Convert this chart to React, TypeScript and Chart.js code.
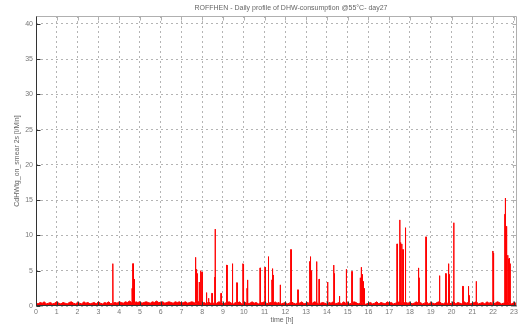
import React, { useEffect, useRef } from "react";
import { Chart, registerables } from "chart.js";

Chart.register(...registerables);

const titleText = "ROFFHEN - Daily profile of DHW-consumption @55°C- day27";
const xLabelText = "time [h]";
const yLabelText = "CdHWtg_on_smear 2s [l/Min]";

const xTickValues = [0, 1, 2, 3, 4, 5, 6, 7, 8, 9, 10, 11, 12, 13, 14, 15, 16, 17, 18, 19, 20, 21, 22, 23];
const yTickValues = [0, 5, 10, 15, 20, 25, 30, 35, 40];
const xMax = 23.15;
const yMax = 41.1;

// baseline flow, one reading every 0.1 h from 0.0 h
const baseStep = 0.1;
const baseValues = [
  0.4, 0.3, 0.5, 0.4, 0.6, 0.3, 0.4, 0.5, 0.3, 0.4, 0.6, 0.4, 0.3, 0.5, 0.4, 0.3, 0.5, 0.6, 0.4, 0.3,
  0.5, 0.4, 0.3, 0.6, 0.4, 0.5, 0.3, 0.4, 0.5, 0.3, 0.6, 0.4, 0.3, 0.5, 0.4, 0.6, 0.3, 0.4, 0.5, 0.4,
  0.6, 0.5, 0.4, 0.6, 0.5, 0.7, 0.5, 0.4, 0.6, 0.5, 0.6, 0.4, 0.5, 0.6, 0.5, 0.4, 0.6, 0.5, 0.7, 0.5,
  0.5, 0.6, 0.4, 0.5, 0.6, 0.5, 0.4, 0.6, 0.5, 0.6, 0.4, 0.5, 0.6, 0.4, 0.5, 0.6, 0.5, 0.4, 0.6, 0.5,
  0.4, 0.5, 0.3, 0.6, 0.4, 0.5, 0.3, 0.4, 0.6, 0.5, 0.3, 0.4, 0.5, 0.6, 0.4, 0.3, 0.5, 0.4, 0.6, 0.3,
  0.4, 0.5, 0.3, 0.4, 0.6, 0.4, 0.5, 0.3, 0.4, 0.5, 0.6, 0.3, 0.4, 0.5, 0.3, 0.6, 0.4, 0.5, 0.3, 0.4,
  0.5, 0.3, 0.4, 0.6, 0.4, 0.3, 0.5, 0.4, 0.6, 0.3, 0.4, 0.5, 0.3, 0.4, 0.6, 0.5, 0.3, 0.4, 0.5, 0.4,
  0.3, 0.5, 0.4, 0.6, 0.3, 0.4, 0.5, 0.3, 0.6, 0.4, 0.5, 0.3, 0.4, 0.6, 0.5, 0.3, 0.4, 0.5, 0.2, 0.3,
  0.4, 0.5, 0.3, 0.4, 0.6, 0.3, 0.5, 0.4, 0.3, 0.6, 0.4, 0.5, 0.3, 0.4, 0.5, 0.6, 0.3, 0.4, 0.5, 0.4,
  0.5, 0.3, 0.4, 0.6, 0.4, 0.5, 0.3, 0.4, 0.6, 0.3, 0.5, 0.4, 0.3, 0.5, 0.6, 0.4, 0.3, 0.5, 0.4, 0.3,
  0.4, 0.6, 0.3, 0.5, 0.4, 0.3, 0.6, 0.4, 0.5, 0.3, 0.4, 0.5, 0.6, 0.3, 0.4, 0.5, 0.3, 0.6, 0.4, 0.5,
  0.3, 0.4, 0.6, 0.5, 0.3, 0.4, 0.5, 0.6, 0.4, 0.3, 0.5, 0.4,
];

// short draw-off events: start hour and flow value
const spikeHours = [
  3.69,
  4.62, 4.66, 4.68, 4.70, 4.72, 4.74,
  7.66, 7.68, 7.71, 7.74, 7.85, 7.92, 7.98,
  8.20, 8.30, 8.46, 8.60, 8.62, 8.90,
  9.16, 9.18, 9.44, 9.46, 9.66, 9.94, 9.96,
  10.15, 10.18, 10.78,
  11.02, 11.17, 11.19, 11.35, 11.38, 11.41, 11.75,
  12.26, 12.60,
  13.15, 13.18, 13.20, 13.23, 13.26, 13.50, 13.62,
  14.03, 14.32, 14.34, 14.60, 14.93,
  15.20, 15.60, 15.65, 15.70, 15.75, 15.80,
  17.37, 17.50, 17.54, 17.60, 17.65, 17.77,
  18.40, 18.42, 18.76,
  19.42, 19.72, 19.85, 19.88,
  20.10, 20.54, 20.80, 20.83,
  21.18, 21.97, 21.99,
  22.02, 22.56, 22.58, 22.61, 22.65, 22.70, 22.73, 22.77, 22.80,
];
const spikeValues = [
  6.0,
  2.5, 6.0, 4.3, 4.4, 3.8, 1.5,
  4.5, 6.9, 5.2, 4.6, 3.4, 5.0, 4.8,
  1.9, 1.1, 1.8, 4.1, 10.9, 1.8,
  3.7, 5.8, 4.2, 6.0, 3.3, 6.0, 5.9,
  2.5, 3.7, 5.4,
  5.5, 5.8, 7.0, 3.7, 5.3, 4.4, 3.0,
  8.0, 2.3,
  4.7, 6.3, 7.0, 5.0, 4.7, 6.3, 3.8,
  3.4, 5.8, 4.6, 1.4, 5.2,
  4.9, 4.0, 5.5, 4.5, 3.5, 2.5,
  8.8, 12.2, 9.0, 8.8, 8.0, 11.1,
  5.4, 4.0, 9.8,
  4.3, 4.6, 6.0, 4.5,
  11.8, 2.8, 2.8, 1.5,
  3.5, 7.8, 7.5,
  4.3, 13.0, 15.3, 11.3, 9.0, 7.2, 6.7, 6.8, 6.0,
];
const spikeDuration = 0.015;

function buildSeries() {
  const pts: { x: number; y: number }[] = [];
  const baseAt = (t: number) => baseValues[Math.min(baseValues.length - 1, Math.max(0, Math.round(t / baseStep)))];
  baseValues.forEach((v, i) => {
    const t = i * baseStep;
    const near = spikeHours.some((s) => t > s - 0.004 && t < s + spikeDuration + 0.004);
    if (!near) pts.push({ x: t, y: v });
  });
  spikeHours.forEach((s, i) => {
    const b = baseAt(s);
    pts.push({ x: s - 0.002, y: b });
    pts.push({ x: s, y: spikeValues[i] });
    pts.push({ x: s + spikeDuration, y: spikeValues[i] });
    pts.push({ x: s + spikeDuration + 0.002, y: b });
  });
  pts.sort((a, b) => a.x - b.x);
  return pts;
}

const FONT = "'Liberation Sans', 'DejaVu Sans', sans-serif";

const framePlugin = {
  id: "frame",
  afterDraw(chart: any) {
    const { ctx, chartArea } = chart;
    const xs = chart.scales.x;
    const ys = chart.scales.y;
    const L = Math.round(chartArea.left) + 0.5;
    const R = Math.round(chartArea.right) - 0.5;
    const T = Math.round(chartArea.top) + 0.5;
    const B = Math.round(chartArea.bottom) - 0.5;
    ctx.save();
    ctx.lineWidth = 1;
    ctx.strokeStyle = "#b0b0b0";
    ctx.beginPath();
    ctx.moveTo(L, T);
    ctx.lineTo(R, T);
    ctx.lineTo(R, B);
    ctx.stroke();
    ctx.beginPath();
    xTickValues.forEach((v) => {
      const px = Math.round(xs.getPixelForValue(v)) + 0.5;
      ctx.moveTo(px, T);
      ctx.lineTo(px, T + 4);
    });
    yTickValues.forEach((v) => {
      const py = Math.round(ys.getPixelForValue(v)) + 0.5;
      ctx.moveTo(R, py);
      ctx.lineTo(R - 4, py);
    });
    ctx.stroke();
    ctx.strokeStyle = "#333333";
    ctx.beginPath();
    ctx.moveTo(L, T);
    ctx.lineTo(L, B);
    ctx.lineTo(R, B);
    ctx.stroke();
    ctx.beginPath();
    xTickValues.forEach((v) => {
      const px = Math.round(xs.getPixelForValue(v)) + 0.5;
      ctx.moveTo(px, B);
      ctx.lineTo(px, B - 4);
    });
    yTickValues.forEach((v) => {
      const py = Math.round(ys.getPixelForValue(v)) + 0.5;
      ctx.moveTo(L, py);
      ctx.lineTo(L + 4, py);
    });
    ctx.stroke();
    ctx.fillStyle = "#666666";
    ctx.font = `7px ${FONT}`;
    ctx.textAlign = "center";
    ctx.textBaseline = "middle";
    ctx.fillText(titleText, 291, 8);
    ctx.fillText(xLabelText, 282, 320);
    ctx.translate(17, 161);
    ctx.rotate(-Math.PI / 2);
    ctx.fillText(yLabelText, 0, 0);
    ctx.restore();
  },
};

export default function App() {
  const ref = useRef<HTMLCanvasElement>(null);
  useEffect(() => {
    document.body.style.margin = "0";
    const chart = new Chart(ref.current!, {
      type: "line",
      data: {
        datasets: [
          {
            data: buildSeries(),
            borderColor: "#ff0000",
            backgroundColor: "#ff0000",
            borderWidth: 1,
            fill: "origin",
            pointRadius: 0,
            tension: 0,
          },
        ],
      },
      options: {
        responsive: false,
        animation: false,
        parsing: false,
        normalized: true,
        layout: { padding: { top: 16, right: 3, left: 0, bottom: 0 } },
        plugins: { legend: { display: false }, tooltip: { enabled: false }, title: { display: false } },
        scales: {
          x: {
            type: "linear",
            min: 0,
            max: xMax,
            afterFit: (s: any) => {
              s.height = 20;
            },
            afterBuildTicks: (s: any) => {
              s.ticks = xTickValues.map((v) => ({ value: v }));
            },
            ticks: {
              font: { size: 7, family: FONT },
              color: "#777777",
              padding: 2,
              maxRotation: 0,
              autoSkip: false,
              includeBounds: false,
            },
            grid: { color: "#b4b4b4", drawTicks: false, lineWidth: 1 },
            border: { display: false, dash: [2, 3] },
          },
          y: {
            type: "linear",
            min: 0,
            max: yMax,
            afterFit: (s: any) => {
              s.width = 36;
            },
            afterBuildTicks: (s: any) => {
              s.ticks = yTickValues.map((v) => ({ value: v }));
            },
            ticks: {
              font: { size: 7, family: FONT },
              color: "#777777",
              padding: 3,
              includeBounds: false,
            },
            grid: { color: "#b4b4b4", drawTicks: false, lineWidth: 1 },
            border: { display: false, dash: [2, 3] },
          },
        },
      },
      plugins: [framePlugin],
    });
    return () => chart.destroy();
  }, []);
  return (
    <div style={{ position: "fixed", left: 0, top: 0, width: 520, height: 326, background: "#fff" }}>
      <canvas ref={ref} width={520} height={326} style={{ width: 520, height: 326 }} />
    </div>
  );
}
